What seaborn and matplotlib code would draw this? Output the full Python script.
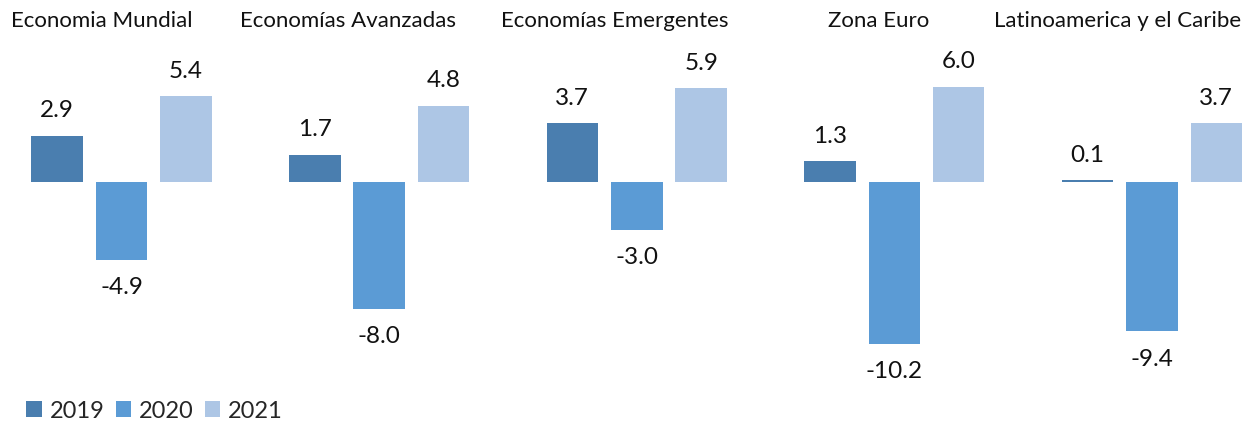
import matplotlib
matplotlib.use("Agg")
import matplotlib.pyplot as plt
import seaborn as sns
import pandas as pd
from matplotlib.patches import Patch

regions = ["Economia Mundial", "Economías Avanzadas", "Economías Emergentes",
           "Zona Euro", "Latinoamerica y el Caribe"]
years = ["2019", "2020", "2021"]
v2019 = [2.9, 1.7, 3.7, 1.3, 0.1]
v2020 = [-4.9, -8.0, -3.0, -10.2, -9.4]
v2021 = [5.4, 4.8, 5.9, 6.0, 3.7]
colors = ["#4A7EAF", "#5B9BD5", "#ADC6E5"]

rows = []
for yr, vals in zip(years, [v2019, v2020, v2021]):
    for r, v in zip(regions, vals):
        rows.append({"region": r, "year": yr, "value": v})
df = pd.DataFrame(rows)

sns.set_theme(style="white")
plt.rcParams['font.family'] = ['Lato', 'DejaVu Sans']

fig = plt.figure(figsize=(12.48, 4.23), dpi=100)
ax = fig.add_axes([0, 0, 1, 1])
sns.barplot(data=df, x="region", y="value", hue="year", order=regions,
            hue_order=years, palette=colors, saturation=1, width=0.75, gap=0.2,
            linewidth=0, ax=ax, legend=False)

ax.set_xlim(-0.472, 4.373)
ax.set_ylim(-15.16, 11.45)
ax.axis("off")

fs = 16
lfs = 17.5
for cont in ax.containers:
    for bar in cont:
        h = bar.get_height()
        y0 = bar.get_y()
        top = max(y0, y0 + h)
        bot = min(y0, y0 + h)
        cx = bar.get_x() + bar.get_width() / 2
        v = top if top > 0 else bot
        if v >= 0:
            ax.annotate(f"{v:.1f}", (cx, top), xytext=(0, 18), textcoords="offset points",
                        ha="center", va="center", fontsize=lfs, color="#111111")
        else:
            ax.annotate(f"{v:.1f}", (cx, bot), xytext=(0, -20), textcoords="offset points",
                        ha="center", va="center", fontsize=lfs, color="#111111")

title_offsets = [-0.076, -0.120, -0.087, -0.062, -0.132]
for i, (r, off) in enumerate(zip(regions, title_offsets)):
    ax.text(i + off, 1 - 21 / 423, r, transform=ax.get_xaxis_transform(),
            ha="center", va="center", fontsize=fs, color="#111111")

handles = [Patch(facecolor=c, edgecolor="none") for c in colors]
fig.legend(handles, years, loc="center left", bbox_to_anchor=(17 / 1248, 1 - 411 / 423),
           ncol=3, frameon=False, fontsize=17, handlelength=0.65, handleheight=0.65,
           handletextpad=0.35, columnspacing=0.45, borderaxespad=0)

fig.savefig("out.png", dpi=100)
